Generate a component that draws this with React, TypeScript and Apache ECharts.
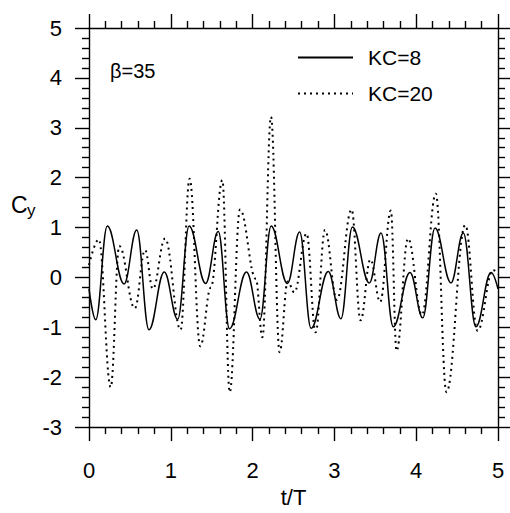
import React, { useEffect, useRef } from "react";
import * as echarts from "echarts";

// KC=8 (solid) – time (t/T) and Cy at turning points
const kc8T = [0, 0.082, 0.224, 0.428, 0.583, 0.733, 0.92, 1.084, 1.224, 1.426, 1.58, 1.718, 1.925, 2.09, 2.227, 2.425, 2.575, 2.715, 2.925, 3.08, 3.22, 3.427, 3.57, 3.72, 3.924, 4.08, 4.23, 4.425, 4.576, 4.73, 4.915, 5.0];
const kc8Cy = [-0.23, -0.85, 1.03, -0.13, 0.95, -1.05, 0.11, -0.84, 1.03, -0.12, 0.92, -1.03, 0.11, -0.84, 1.03, -0.12, 0.91, -1.02, 0.12, -0.83, 1.01, -0.11, 0.89, -0.99, 0.1, -0.81, 0.99, -0.11, 0.89, -0.99, 0.1, -0.23];

// KC=20 (dotted)
const kc20T = [0, 0.12, 0.265, 0.37, 0.56, 0.685, 0.78, 0.93, 1.12, 1.23, 1.36, 1.49, 1.63, 1.72, 1.846, 2.04, 2.12, 2.225, 2.33, 2.43, 2.51, 2.66, 2.77, 2.885, 3.03, 3.21, 3.32, 3.44, 3.56, 3.69, 3.76, 3.9, 4.07, 4.24, 4.37, 4.6, 4.75, 4.94, 5.0];
const kc20Cy = [0.25, 0.76, -2.2, 0.63, -0.62, 0.55, -0.23, 0.78, -1.05, 1.98, -1.38, -0.2, 1.95, -2.3, 1.36, -0.03, -1.2, 3.22, -1.5, -0.08, -0.3, 0.88, -1.1, 0.95, -0.45, 1.36, -0.86, 0.36, -0.49, 1.34, -1.47, 0.78, -0.75, 1.68, -2.3, 1.05, -1.07, 0.15, 0.06];

const xTicks = { min: 0, max: 5, interval: 1 };
const yTicks = { min: -3, max: 5, interval: 1 };
const seriesNames = ["KC=8", "KC=20"];

const FONT = "Liberation Sans, Arial, Helvetica, sans-serif";

export default function App() {
  const ref = useRef<HTMLDivElement>(null);
  useEffect(() => {
    document.body.style.margin = "0";
    if (!ref.current) return;
    const chart = echarts.init(ref.current, undefined, { renderer: "svg" });
    const axisLine = { show: true, onZero: false, lineStyle: { color: "#000", width: 1.4 } };
    const axisTick = { show: true, inside: false, length: 14, lineStyle: { color: "#000", width: 1.4 } };
    const minorTick = { show: true, splitNumber: 5, length: 7, lineStyle: { color: "#000", width: 1.4 } };
    const label = { color: "#000", fontSize: 22, fontFamily: FONT };
    const xBase = { type: "value" as const, ...xTicks, axisLine, axisTick, minorTick, splitLine: { show: false } };
    const yBase = { type: "value" as const, ...yTicks, axisLine, axisTick, minorTick, splitLine: { show: false } };
    chart.setOption({
      animation: false,
      backgroundColor: "#fff",
      grid: { left: 89, right: 12, top: 28, bottom: 74, containLabel: false },
      xAxis: [
        {
          ...xBase,
          position: "bottom",
          axisLabel: { ...label, margin: 32 },
          name: "t/T",
          nameLocation: "middle",
          nameGap: 53,
          nameTextStyle: { color: "#000", fontSize: 22, fontFamily: FONT },
        },
        { ...xBase, position: "top", axisLabel: { show: false } },
      ],
      yAxis: [
        { ...yBase, position: "left", axisLabel: { ...label, margin: 27 } },
        { ...yBase, position: "right", axisLabel: { show: false } },
      ],
      legend: {
        orient: "vertical",
        left: 292,
        top: 42,
        padding: 5,
        itemWidth: 55,
        itemHeight: 22,
        itemGap: 15,
        itemStyle: { opacity: 0 },
        textStyle: { color: "#000", fontSize: 21, fontFamily: FONT, padding: [0, 0, 0, 10] },
        data: seriesNames,
      },
      series: [
        {
          name: seriesNames[0],
          type: "line",
          data: kc8T.map((t, i) => [t, kc8Cy[i]]),
          symbol: "none",
          smooth: 0.4,
          smoothMonotone: "x",
          lineStyle: { color: "#000", width: 1.5, type: "solid" },
          itemStyle: { color: "#000" },
        },
        {
          name: seriesNames[1],
          type: "line",
          data: kc20T.map((t, i) => [t, kc20Cy[i]]),
          symbol: "none",
          smooth: 0.4,
          smoothMonotone: "x",
          lineStyle: { color: "#000", width: 2, type: [2, 4] },
          itemStyle: { color: "#000" },
        },
      ],
      graphic: [
        { type: "text", left: 110, top: 61, style: { text: "β=35", fontSize: 20, fontFamily: FONT, fill: "#000" } },
        { type: "text", left: 11, top: 193, style: { text: "C", fontSize: 23, fontFamily: FONT, fill: "#000" } },
        { type: "text", left: 27, top: 202, style: { text: "y", fontSize: 17, fontFamily: FONT, fill: "#000" } },
      ],
    });
    return () => chart.dispose();
  }, []);
  return <div ref={ref} style={{ width: 510, height: 513 }} />;
}
